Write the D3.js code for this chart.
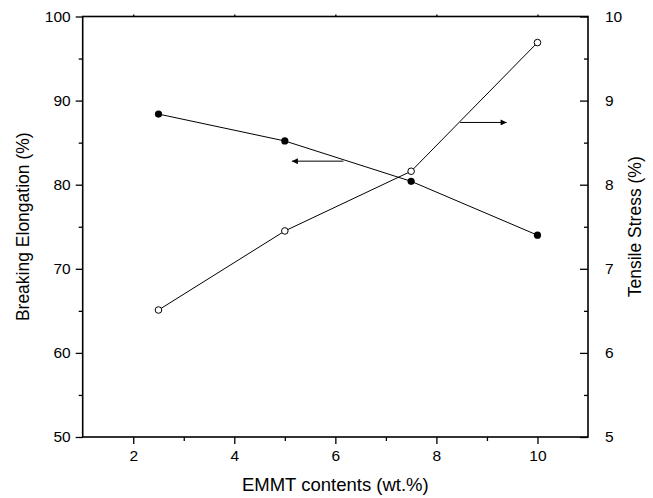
<!DOCTYPE html>
<html>
<head>
<script src="https://d3js.org/d3.v7.min.js"></script>
<style>
  body { margin: 0; background: #fff; }
  text { font-family: "Liberation Sans", Arial, sans-serif; fill: #000; }
</style>
</head>
<body>
<svg width="653" height="498"></svg>
<script>
// data
var contents = [2.5, 5, 7.5, 10];
var elongation = [88.4, 85.2, 80.4, 74.0];   // left axis, filled dots
var stress = [6.51, 7.45, 8.16, 9.69];       // right axis, open dots

var xTicks = [2, 4, 6, 8, 10];
var yLeftTicks = [50, 60, 70, 80, 90, 100];
var yRightTicks = [5, 6, 7, 8, 9, 10];

// arrows pointing to the axis each curve belongs to: [x0, x1, y]
var arrowLeft = [6.16, 5.14, 82.8];
var arrowRight = [8.47, 9.39, 8.74];

var margin = {top: 16.5, right: 65, bottom: 61, left: 82.7};
var width = 653 - margin.left - margin.right,
    height = 498 - margin.top - margin.bottom;

var svg = d3.select("svg");
var g = svg.append("g")
    .attr("transform", "translate(" + margin.left + "," + margin.top + ")");

var x = d3.scaleLinear().domain([1, 11]).range([0, width]);
var yL = d3.scaleLinear().domain([50, 100]).range([height, 0]);
var yR = d3.scaleLinear().domain([5, 10]).range([height, 0]);

var defs = svg.append("defs");
defs.append("marker")
    .attr("id", "head")
    .attr("viewBox", "0 0 10 10")
    .attr("refX", 10).attr("refY", 5)
    .attr("markerWidth", 10).attr("markerHeight", 6)
    .attr("markerUnits", "userSpaceOnUse")
    .attr("orient", "auto")
    .append("path").attr("d", "M0,0L10,5L0,10Z").attr("fill", "#000");

// axes
function styleAxis(sel) {
    sel.select(".domain").remove();
    sel.selectAll("line").attr("stroke", "#000").attr("stroke-width", 1.3);
    sel.selectAll("text").style("font-size", "15.5px");
}

// minor ticks
var xMinor = [3, 5, 7, 9];
var yLMinor = [55, 65, 75, 85, 95];
var yRMinor = [5.5, 6.5, 7.5, 8.5, 9.5];

g.append("g").attr("transform", "translate(0," + height + ")")
    .call(d3.axisBottom(x).tickValues(xTicks).tickSize(7).tickPadding(6).tickFormat(d3.format("d")))
    .call(styleAxis);
g.append("g").attr("transform", "translate(0," + height + ")")
    .call(d3.axisBottom(x).tickValues(xMinor).tickSize(4).tickFormat(""))
    .call(styleAxis);

g.append("g")
    .call(d3.axisTop(x).tickValues(xTicks).tickSize(2).tickFormat(""))
    .call(styleAxis);

g.append("g")
    .call(d3.axisLeft(yL).tickValues(yLeftTicks).tickSize(7).tickPadding(5))
    .call(styleAxis);
g.append("g")
    .call(d3.axisLeft(yL).tickValues(yLMinor).tickSize(4).tickFormat(""))
    .call(styleAxis);

g.append("g").attr("transform", "translate(" + width + ",0)")
    .call(d3.axisRight(yR).tickValues(yRightTicks).tickSize(-8).tickPadding(17).tickFormat(d3.format("d")))
    .call(styleAxis);
g.append("g").attr("transform", "translate(" + width + ",0)")
    .call(d3.axisRight(yR).tickValues(yRMinor).tickSize(-4).tickFormat(""))
    .call(styleAxis);

// frame
g.append("rect")
    .attr("width", width).attr("height", height)
    .attr("fill", "none").attr("stroke", "#000").attr("stroke-width", 1.6);

// series lines
var lineL = d3.line().x(function(d) { return x(d[0]); }).y(function(d) { return yL(d[1]); });
var lineR = d3.line().x(function(d) { return x(d[0]); }).y(function(d) { return yR(d[1]); });

var elData = contents.map(function(c, i) { return [c, elongation[i]]; });
var stData = contents.map(function(c, i) { return [c, stress[i]]; });

g.append("path").attr("d", lineL(elData))
    .attr("fill", "none").attr("stroke", "#000").attr("stroke-width", 1);
g.append("path").attr("d", lineR(stData))
    .attr("fill", "none").attr("stroke", "#000").attr("stroke-width", 1);

g.selectAll(".dotL").data(elData).enter().append("circle")
    .attr("class", "dotL")
    .attr("cx", function(d) { return x(d[0]); })
    .attr("cy", function(d) { return yL(d[1]); })
    .attr("r", 3.6).attr("fill", "#000");

g.selectAll(".dotR").data(stData).enter().append("circle")
    .attr("class", "dotR")
    .attr("cx", function(d) { return x(d[0]); })
    .attr("cy", function(d) { return yR(d[1]); })
    .attr("r", 3.3).attr("fill", "#fff").attr("stroke", "#000").attr("stroke-width", 1);

// arrows
g.append("line")
    .attr("x1", x(arrowLeft[0])).attr("x2", x(arrowLeft[1]))
    .attr("y1", yL(arrowLeft[2])).attr("y2", yL(arrowLeft[2]))
    .attr("stroke", "#000").attr("stroke-width", 1).attr("marker-end", "url(#head)");
g.append("line")
    .attr("x1", x(arrowRight[0])).attr("x2", x(arrowRight[1]))
    .attr("y1", yR(arrowRight[2])).attr("y2", yR(arrowRight[2]))
    .attr("stroke", "#000").attr("stroke-width", 1).attr("marker-end", "url(#head)");

// axis titles
svg.append("text")
    .attr("x", margin.left + width / 2).attr("y", 491)
    .attr("text-anchor", "middle").style("font-size", "18.5px")
    .text("EMMT contents (wt.%)");

svg.append("text")
    .attr("transform", "translate(29," + (margin.top + height / 2) + ") rotate(-90)")
    .attr("text-anchor", "middle").style("font-size", "17.5px")
    .text("Breaking Elongation (%)");

svg.append("text")
    .attr("transform", "translate(641," + (margin.top + height / 2) + ") rotate(-90)")
    .attr("text-anchor", "middle").style("font-size", "17.5px")
    .text("Tensile Stress (%)");
</script>
</body>
</html>
